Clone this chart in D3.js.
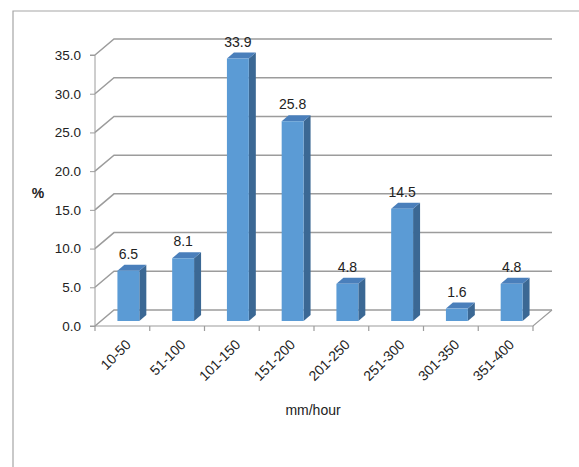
<!DOCTYPE html>
<html>
<head>
<meta charset="utf-8">
<script src="https://cdn.jsdelivr.net/npm/d3@7"></script>
<style>
  body { margin: 0; background: #ffffff; }
  svg text { font-family: "Liberation Sans", Arial, sans-serif; fill: #222; }
</style>
</head>
<body>
<svg id="chart"></svg>
<script>
// Chart data
const categories = ["10-50", "51-100", "101-150", "151-200", "201-250", "251-300", "301-350", "351-400"];
const values = [6.5, 8.1, 33.9, 25.8, 4.8, 14.5, 1.6, 4.8];
const yTicks = [0, 5, 10, 15, 20, 25, 30, 35];

// SVG dimensions
let width = 579, height = 467;
let plotLeft = 95, plotRight = 533, plotTop = 55, plotBottom = 326;

// 3D depth offsets (floor back edge and bar front / back planes)
let depth = { dx: 19, dy: -16 };
let barFront = { dx: 6, dy: -5 };
let barBack = { dx: 13, dy: -11 };

let svg = d3.select('#chart')
    .attr('width', width)
    .attr('height', height);

// Outer chart border (only top and left visible)
svg.append('path')
    .attr('d', `M13,${height} L13,11 L${width},11`)
    .attr('fill', 'none')
    .attr('stroke', '#a6a6a6')
    .attr('stroke-width', 1.2);

let xScale = d3.scaleBand()
    .domain(categories)
    .range([plotLeft, plotRight])
    .paddingInner(0.6)
    .paddingOuter(0.3);

let yScale = d3.scaleLinear()
    .domain([0, 35])
    .range([plotBottom, plotTop]);

// Gridlines: side wall diagonals + back wall horizontals
let grid = svg.append('g');
yTicks.forEach((t) => {
    let y = yScale(t);
    grid.append('path')
        .attr('d', `M${plotLeft},${y} L${plotLeft + depth.dx},${y + depth.dy} L${plotRight + depth.dx},${y + depth.dy}`)
        .attr('fill', 'none')
        .attr('stroke', '#9c9c9c')
        .attr('stroke-width', 1.5);
});

// Floor front edge and right diagonal
grid.append('path')
    .attr('d', `M${plotLeft},${plotBottom} L${plotRight},${plotBottom} L${plotRight + depth.dx},${plotBottom + depth.dy}`)
    .attr('fill', 'none')
    .attr('stroke', '#9c9c9c')
    .attr('stroke-width', 1.2);

// Y axis
let yAxis = d3.axisLeft(yScale)
    .tickValues(yTicks)
    .tickFormat(d3.format('.1f'))
    .tickSize(5)
    .tickPadding(9);
let yg = svg.append('g')
    .attr('transform', `translate(${plotLeft}, 0)`)
    .call(yAxis);
yg.select('.domain').attr('stroke', '#9c9c9c').attr('d', `M-5,${plotTop}H0V${plotBottom}H-5`);
yg.selectAll('.tick line').attr('stroke', '#9c9c9c');
yg.selectAll('.tick text').style('font-size', '13.5px').attr('fill', '#222');

// X axis ticks (category boundaries)
let step = xScale.step();
let xg = svg.append('g');
d3.range(categories.length + 1).forEach((i) => {
    let x = plotLeft + i * step;
    xg.append('line')
        .attr('x1', x).attr('x2', x)
        .attr('y1', plotBottom).attr('y2', plotBottom + 5)
        .attr('stroke', '#9c9c9c')
        .attr('stroke-width', 1.2);
});

// Category labels, rotated
xg.selectAll('text.cat')
    .data(categories)
    .enter()
    .append('text')
    .attr('class', 'cat')
    .attr('text-anchor', 'end')
    .attr('dy', '0.35em')
    .attr('transform', (d) => `translate(${xScale(d) + xScale.bandwidth() / 2 + 6}, 342) rotate(-45)`)
    .style('font-size', '14px')
    .text((d) => d);

// Bars
let bw = xScale.bandwidth();
let y0 = yScale(0);
let bars = svg.selectAll('g.bar')
    .data(categories.map((c, i) => ({ c: c, v: values[i] })))
    .enter()
    .append('g')
    .attr('class', 'bar');

// side face
bars.append('path')
    .attr('fill', '#3b6894')
    .attr('d', (d) => {
        let x1 = xScale(d.c) + bw, yt = yScale(d.v);
        return `M${x1 + barFront.dx},${yt + barFront.dy} L${x1 + barBack.dx},${yt + barBack.dy} L${x1 + barBack.dx},${y0 + barBack.dy} L${x1 + barFront.dx},${y0 + barFront.dy}Z`;
    });

// top face
bars.append('path')
    .attr('fill', '#4a7fbb')
    .attr('d', (d) => {
        let x0 = xScale(d.c), yt = yScale(d.v);
        return `M${x0 + barFront.dx},${yt + barFront.dy} L${x0 + bw + barFront.dx},${yt + barFront.dy} L${x0 + bw + barBack.dx},${yt + barBack.dy} L${x0 + barBack.dx},${yt + barBack.dy}Z`;
    });

// front face
bars.append('rect')
    .attr('fill', '#5b9bd5')
    .attr('x', (d) => xScale(d.c) + barFront.dx)
    .attr('y', (d) => yScale(d.v) + barFront.dy)
    .attr('width', bw)
    .attr('height', (d) => y0 - yScale(d.v));

// Value labels
bars.append('text')
    .attr('text-anchor', 'middle')
    .attr('x', (d) => xScale(d.c) + bw / 2 + barFront.dx)
    .attr('y', (d) => yScale(d.v) + barBack.dy - 6)
    .style('font-size', '14px')
    .text((d) => d.v.toFixed(1));

// Axis titles
svg.append('text')
    .attr('x', 38).attr('y', 198)
    .attr('text-anchor', 'middle')
    .style('font-size', '14px')
    .style('font-weight', 'bold')
    .text('%');

svg.append('text')
    .attr('x', 313).attr('y', 415)
    .attr('text-anchor', 'middle')
    .style('font-size', '14px')
    .text('mm/hour');
</script>
</body>
</html>
